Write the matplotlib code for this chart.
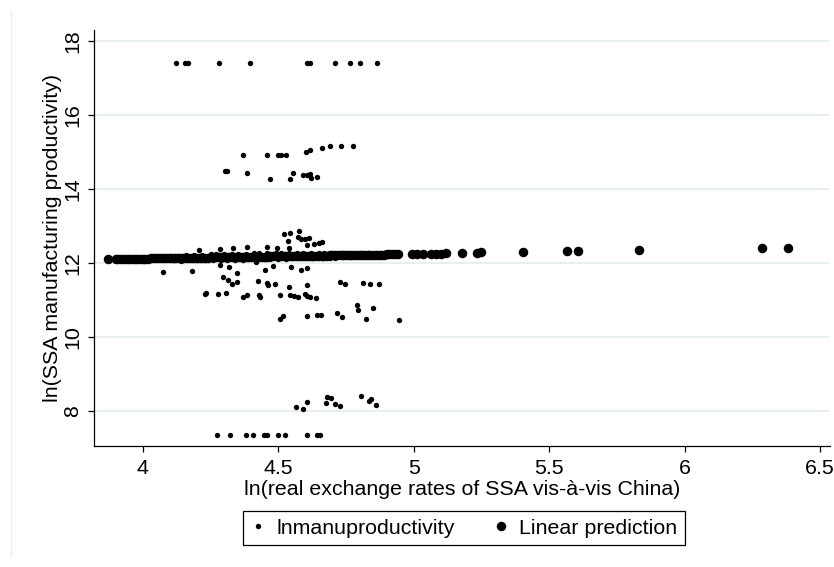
import matplotlib
matplotlib.use("Agg")
import matplotlib.pyplot as plt
from matplotlib.lines import Line2D

plt.rcParams['font.family'] = ['Liberation Sans', 'DejaVu Sans']

# ---------------- data ----------------
# observed ln(manufacturing productivity)
top_x = [4.123, 4.156, 4.167, 4.280, 4.397, 4.605, 4.617, 4.711, 4.766, 4.802, 4.863]
top_y = [17.41, 17.41, 17.41, 17.41, 17.41, 17.41, 17.41, 17.42, 17.41, 17.41, 17.41]

r15_x = [4.371, 4.460, 4.500, 4.509, 4.530, 4.603, 4.617, 4.660, 4.692, 4.731, 4.777]
r15_y = [14.94, 14.94, 14.94, 14.94, 14.94, 15.00, 15.05, 15.11, 15.16, 15.16, 15.16]

r14_x = [4.304, 4.310, 4.384, 4.470, 4.545, 4.553, 4.593, 4.605, 4.617, 4.620, 4.643]
r14_y = [14.49, 14.50, 14.45, 14.27, 14.29, 14.43, 14.38, 14.39, 14.40, 14.31, 14.34]

above_x = [4.521, 4.545, 4.578, 4.574, 4.583, 4.599, 4.614, 4.632, 4.649, 4.660,
           4.605, 4.537, 4.540, 4.457, 4.494, 4.384, 4.334, 4.285, 4.209]
above_y = [12.78, 12.82, 12.86, 12.71, 12.65, 12.65, 12.68, 12.51, 12.56, 12.58,
           12.49, 12.59, 12.42, 12.45, 12.41, 12.43, 12.40, 12.38, 12.35]

band_x = [4.10, 4.11, 4.13, 4.14, 4.16, 4.17, 4.19, 4.20, 4.22, 4.23, 4.25, 4.26,
          4.27, 4.29, 4.30, 4.31, 4.33, 4.34, 4.35, 4.37, 4.38, 4.39, 4.41, 4.42,
          4.43, 4.45, 4.46, 4.47, 4.49, 4.50, 4.51, 4.53, 4.54, 4.55, 4.57, 4.58,
          4.59, 4.61, 4.62, 4.63, 4.65, 4.66, 4.67, 4.69, 4.70, 4.71, 4.73, 4.74,
          4.75, 4.77, 4.78, 4.79, 4.81, 4.82, 4.83, 4.85, 4.86, 4.87, 4.89, 4.90, 4.92]
band_y = [12.20, 12.08, 12.21, 12.07, 12.22, 12.08, 12.23, 12.08, 12.23, 12.09, 12.24, 12.09,
          12.25, 12.09, 12.25, 12.10, 12.26, 12.10, 12.26, 12.10, 12.26, 12.11, 12.27, 12.11,
          12.27, 12.11, 12.27, 12.12, 12.28, 12.12, 12.28, 12.12, 12.28, 12.13, 12.28, 12.13,
          12.28, 12.13, 12.29, 12.14, 12.29, 12.14, 12.29, 12.15, 12.29, 12.15, 12.28, 12.16,
          12.28, 12.16, 12.28, 12.17, 12.28, 12.18, 12.28, 12.18, 12.28, 12.19, 12.28, 12.20, 12.28]

below_x = [4.076, 4.183, 4.285, 4.317, 4.347, 4.297, 4.315, 4.328, 4.347, 4.427, 4.457,
           4.463, 4.488, 4.418, 4.451, 4.480, 4.546, 4.584, 4.605, 4.540, 4.605,
           4.230, 4.234, 4.279, 4.306, 4.369, 4.384, 4.430, 4.433, 4.507, 4.544, 4.558,
           4.571, 4.599, 4.605, 4.617, 4.638,
           4.728, 4.746, 4.812, 4.839, 4.871,
           4.790, 4.796, 4.849, 4.716, 4.737, 4.824, 4.945, 4.507, 4.517, 4.605, 4.644, 4.657]
below_y = [11.76, 11.78, 11.95, 11.89, 11.73, 11.62, 11.56, 11.44, 11.49, 11.52, 11.48,
           11.41, 11.45, 12.04, 11.81, 11.93, 11.89, 11.82, 11.86, 11.35, 11.42,
           11.17, 11.21, 11.17, 11.21, 11.09, 11.14, 11.14, 11.08, 11.14, 11.14, 11.12,
           11.10, 11.18, 11.12, 11.10, 11.05,
           11.50, 11.43, 11.47, 11.45, 11.45,
           10.86, 10.73, 10.79, 10.67, 10.56, 10.49, 10.46, 10.49, 10.58, 10.58, 10.61, 10.61]

r8_x = [4.565, 4.593, 4.605, 4.675, 4.681, 4.694, 4.711, 4.729, 4.804, 4.833, 4.842, 4.861]
r8_y = [8.11, 8.06, 8.26, 8.23, 8.38, 8.35, 8.20, 8.14, 8.42, 8.29, 8.32, 8.17]

bot_x = [4.275, 4.322, 4.380, 4.406, 4.448, 4.458, 4.500, 4.525, 4.605, 4.642, 4.654]
bot_y = [7.37, 7.37, 7.37, 7.37, 7.37, 7.37, 7.37, 7.37, 7.37, 7.37, 7.37]

obs_x = top_x + r15_x + r14_x + above_x + band_x + below_x + r8_x + bot_x
obs_y = top_y + r15_y + r14_y + above_y + band_y + below_y + r8_y + bot_y

pred_x = [3.871,
          3.90, 3.91, 3.92, 3.93, 3.94, 3.95, 3.96, 3.97, 3.98, 3.99,
          4.00, 4.01, 4.02, 4.03, 4.04, 4.05, 4.06, 4.07, 4.08, 4.09,
          4.10, 4.11, 4.12, 4.13, 4.14, 4.15, 4.16, 4.17, 4.18, 4.19,
          4.20, 4.21, 4.22, 4.23, 4.24, 4.25, 4.26, 4.27, 4.28, 4.29,
          4.30, 4.31, 4.32, 4.33, 4.34, 4.35, 4.36, 4.37, 4.38, 4.39,
          4.40, 4.41, 4.42, 4.43, 4.44, 4.45, 4.46, 4.47, 4.48, 4.49,
          4.50, 4.51, 4.52, 4.53, 4.54, 4.55, 4.56, 4.57, 4.58, 4.59,
          4.60, 4.61, 4.62, 4.63, 4.64, 4.65, 4.66, 4.67, 4.68, 4.69,
          4.70, 4.71, 4.72, 4.73, 4.74, 4.75, 4.76, 4.77, 4.78, 4.79,
          4.80, 4.81, 4.82, 4.83, 4.84, 4.85, 4.86, 4.87, 4.88, 4.89,
          4.90, 4.91, 4.92, 4.93, 4.94,
          4.994, 5.013, 5.035, 5.064, 5.083, 5.101, 5.120, 5.177, 5.232,
          5.248, 5.404, 5.567, 5.606, 5.833, 6.285, 6.381]
pred_y = [12.110,
          12.114, 12.115, 12.116, 12.117, 12.119, 12.120, 12.121, 12.122, 12.124, 12.125,
          12.126, 12.127, 12.128, 12.130, 12.131, 12.132, 12.133, 12.135, 12.136, 12.137,
          12.138, 12.140, 12.141, 12.142, 12.143, 12.144, 12.146, 12.147, 12.148, 12.149,
          12.151, 12.152, 12.153, 12.154, 12.156, 12.157, 12.158, 12.159, 12.161, 12.162,
          12.163, 12.164, 12.166, 12.167, 12.168, 12.169, 12.171, 12.172, 12.173, 12.174,
          12.176, 12.177, 12.178, 12.179, 12.181, 12.182, 12.183, 12.184, 12.186, 12.187,
          12.188, 12.189, 12.190, 12.192, 12.193, 12.194, 12.195, 12.197, 12.198, 12.199,
          12.200, 12.202, 12.203, 12.204, 12.205, 12.207, 12.208, 12.209, 12.210, 12.212,
          12.213, 12.214, 12.215, 12.217, 12.218, 12.219, 12.220, 12.221, 12.223, 12.224,
          12.225, 12.226, 12.228, 12.229, 12.230, 12.231, 12.233, 12.234, 12.235, 12.236,
          12.238, 12.239, 12.240, 12.241, 12.243,
          12.249, 12.252, 12.254, 12.258, 12.260, 12.263, 12.265, 12.280, 12.290,
          12.300, 12.300, 12.320, 12.330, 12.350, 12.410, 12.420]

x_ticks = [4, 4.5, 5, 5.5, 6, 6.5]
x_tick_labels = ["4", "4.5", "5", "5.5", "6", "6.5"]
y_ticks = [8, 10, 12, 14, 16, 18]
y_tick_labels = ["8", "10", "12", "14", "16", "18"]

x_title = "ln(real exchange rates of SSA vis-à-vis China)"
y_title = "ln(SSA manufacturing productivity)"
legend_labels = ["lnmanuproductivity", "Linear prediction"]

# ---------------- figure ----------------
W, H = 834, 567
FS = 15.4
fig = plt.figure(figsize=(W / 100, H / 100), dpi=100)
fig.patch.set_facecolor("white")

# faint outer graph-region edge
fig.add_artist(Line2D([11 / W, 11 / W], [1 - 557 / H, 1 - 10 / H],
                      color="#e9f0f0", lw=1.0))

left, right, top, bottom = 94, 830, 30, 446
ax = fig.add_axes([left / W, 1 - bottom / H, (right - left) / W, (bottom - top) / H])

ax.set_xlim(3.820, 6.536)
ax.set_ylim(7.062, 18.305)

for yv in y_ticks:
    ax.axhline(yv, color="#e6eeee", lw=1.3, zorder=0)

ax.scatter(obs_x, obs_y, s=15, color="black", linewidths=0, zorder=3)
ax.scatter(pred_x, pred_y, s=47, color="black", linewidths=0, zorder=2)

for side in ["top", "right"]:
    ax.spines[side].set_visible(False)
for side in ["left", "bottom"]:
    ax.spines[side].set_color("black")
    ax.spines[side].set_linewidth(0.9)

ax.set_xticks(x_ticks)
ax.set_xticklabels(x_tick_labels)
ax.set_yticks(y_ticks)
ax.set_yticklabels(y_tick_labels, rotation=90, va="center")
ax.tick_params(axis="both", direction="out", length=4.5, width=0.9,
               color="black", labelsize=FS)
ax.tick_params(axis="x", pad=4.5)
ax.tick_params(axis="y", pad=4)

ax.set_xlabel(x_title, fontsize=FS, labelpad=1.5)
ax.set_ylabel(y_title, fontsize=FS, labelpad=1)

h1 = Line2D([], [], marker="o", linestyle="none", color="black", markersize=3.9,
            markeredgewidth=0)
h2 = Line2D([], [], marker="o", linestyle="none", color="black", markersize=6.8,
            markeredgewidth=0)
leg = fig.legend([h1, h2], legend_labels, loc="center",
                 bbox_to_anchor=(464 / W, 1 - 528 / H), ncol=2, frameon=True,
                 fancybox=False, edgecolor="black", framealpha=1, fontsize=FS,
                 handlelength=0.7, handletextpad=0.5, columnspacing=1.8,
                 borderpad=0.35, borderaxespad=0)
leg.get_frame().set_linewidth(0.9)

fig.savefig("out.png", dpi=100, facecolor="white")
